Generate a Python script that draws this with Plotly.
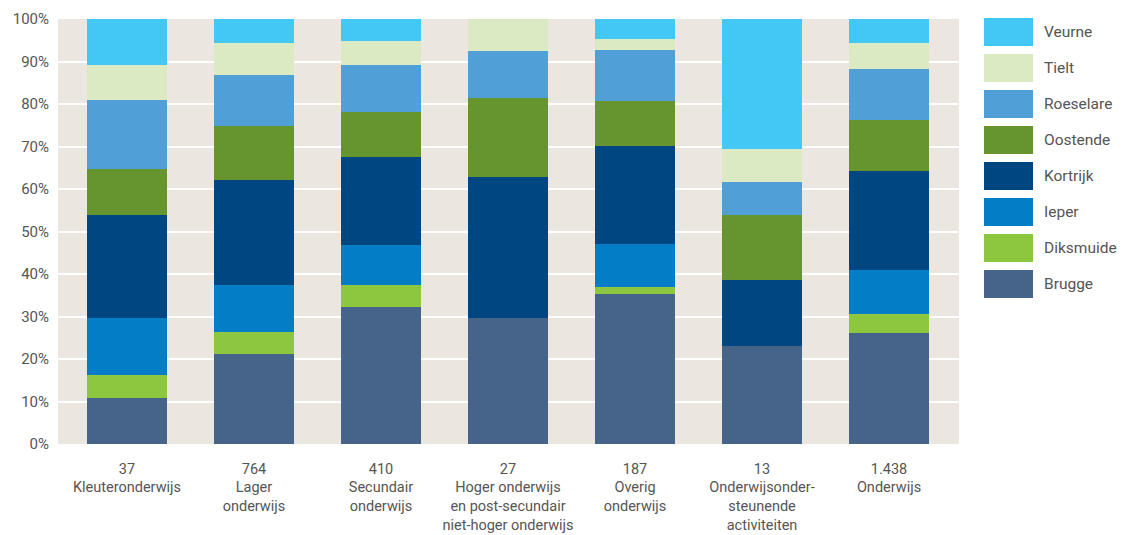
import plotly.graph_objects as go

categories = ["37<br>Kleuteronderwijs", "764<br>Lager<br>onderwijs", "410<br>Secundair<br>onderwijs",
              "27<br>Hoger onderwijs<br>en post-secundair<br>niet-hoger onderwijs",
              "187<br>Overig<br>onderwijs", "13<br>Onderwijsonder-<br>steunende<br>activiteiten",
              "1.438<br>Onderwijs"]

brugge    = [10.8, 21.2, 32.2, 29.6, 35.3, 23.1, 26.1]
diksmuide = [5.4, 5.2, 5.2, 0.0, 1.6, 0.0, 4.5]
ieper     = [13.5, 11.0, 9.4, 0.0, 10.2, 0.0, 10.3]
kortrijk  = [24.3, 24.7, 20.7, 33.3, 23.0, 15.4, 23.3]
oostende  = [10.8, 12.7, 10.6, 18.5, 10.6, 15.4, 12.0]
roeselare = [16.2, 12.0, 11.1, 11.1, 12.0, 7.7, 12.0]
tielt     = [8.1, 7.6, 5.6, 7.4, 2.6, 7.7, 6.2]
veurne    = [10.8, 5.6, 5.2, 0.0, 4.7, 30.8, 5.6]

series_names = ["Brugge", "Diksmuide", "Ieper", "Kortrijk", "Oostende", "Roeselare", "Tielt", "Veurne"]
series_values = [brugge, diksmuide, ieper, kortrijk, oostende, roeselare, tielt, veurne]
series_colors = ["#46638A", "#8DC63F", "#037DC5", "#004781", "#66942E", "#519FD7", "#DCEAC4", "#43C8F5"]

y_ticks = [0, 10, 20, 30, 40, 50, 60, 70, 80, 90, 100]
y_tick_labels = [f"{v}%" for v in y_ticks]

FONT = "Roboto"
TXT = "#555555"

fig = go.Figure()
x_idx = list(range(len(categories)))
for name, vals, col in zip(series_names, series_values, series_colors):
    fig.add_trace(go.Bar(x=x_idx, y=vals, name=name, marker=dict(color=col, line=dict(width=0)),
                         width=0.63, showlegend=False, hoverinfo="skip"))

W, H = 1125, 535
ml, mr, mt, mb = 58, W - 959, 19, H - 444

fig.update_layout(
    width=W, height=H, barmode="stack", bargap=0,
    margin=dict(l=ml, r=mr, t=mt, b=mb, autoexpand=False),
    paper_bgcolor="white", plot_bgcolor="#EBE6E0",
    font=dict(family=FONT, size=14, color=TXT),
)
fig.update_xaxes(range=[-0.543, 6.551], tickmode="array", tickvals=x_idx, ticktext=categories,
                 showgrid=False, zeroline=False, showline=False, ticks="", automargin=False,
                 tickfont=dict(family=FONT, size=14.5, color=TXT), ticklabelstandoff=14, tickangle=0)
fig.update_yaxes(range=[0, 100], tickmode="array", tickvals=y_ticks, ticktext=y_tick_labels,
                 showgrid=True, gridcolor="white", gridwidth=2, zeroline=False, showline=False,
                 automargin=False,
                 tickfont=dict(family=FONT, size=15, color=TXT), ticklabelstandoff=8)

# custom legend (top to bottom: Veurne ... Brugge)
legend_order = list(reversed(range(len(series_names))))
x0_px, x1_px = 984, 1033
for k, i in enumerate(legend_order):
    yc = 32 + 36 * k
    fig.add_shape(type="rect", xref="paper", yref="paper",
                  x0=(x0_px - ml) / (W - ml - mr), x1=(x1_px - ml) / (W - ml - mr),
                  y0=1 - (yc - 14 - mt) / (H - mt - mb), y1=1 - (yc + 14 - mt) / (H - mt - mb),
                  fillcolor=series_colors[i], line=dict(width=0))
    fig.add_annotation(xref="paper", yref="paper", x=(1042 - ml) / (W - ml - mr),
                       y=1 - (yc - mt) / (H - mt - mb), text=series_names[i], showarrow=False,
                       xanchor="left", yanchor="middle", font=dict(family=FONT, size=15.5, color=TXT))

fig.write_html("out.html", config={"displayModeBar": False},
               post_script="document.body.style.margin='0px';")
